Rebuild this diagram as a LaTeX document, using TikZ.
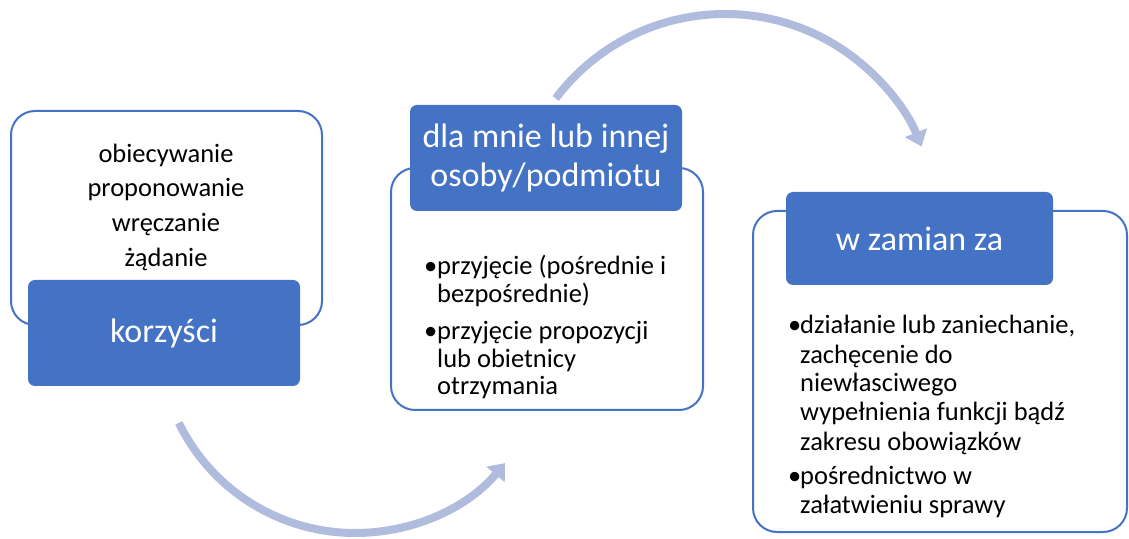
\documentclass[tikz,border=0pt]{standalone}
\usepackage{fontspec}
\setmainfont{Carlito}
\usetikzlibrary{arrows.meta}
\definecolor{mainblue}{HTML}{4472C4}
\definecolor{arrowblue}{RGB}{176,188,222}
\begin{document}
\begin{tikzpicture}[x=1pt,y=1pt,
  outline/.style={draw=mainblue, line width=2pt, fill=white, rounded corners=24pt, inner sep=0pt},
  titlebox/.style={fill=mainblue, rounded corners=7pt, inner sep=0pt, text=white,
    font=\fontsize{34}{39}\selectfont, align=center},
  txt/.style={font=\fontsize{26.5}{28}\selectfont, anchor=base west, inner sep=0pt},
  ctxt/.style={font=\fontsize{26.5}{28}\selectfont, anchor=base, inner sep=0pt},
  flow/.style={draw=arrowblue, line width=8pt, -{Triangle[length=15pt,width=23pt]}}
]
\useasboundingbox (0,0) rectangle (1129,538);
% outline boxes
\node[outline, minimum width=311pt, minimum height=214pt] (o1) at (166.5,320) {};
\node[outline, minimum width=312pt, minimum height=242pt] (o2) at (547,249) {};
\node[outline, minimum width=374pt, minimum height=321pt] (o3) at (940,166.5) {};
% title boxes
\node[titlebox, minimum width=272pt, minimum height=106pt] (t1) at (164,205) {korzyści};
\node[titlebox, minimum width=272pt, minimum height=106pt] (t2) at (546,380) {dla mnie lub innej\\osoby/podmiotu};
\node[titlebox, minimum width=267pt, minimum height=93pt] (t3) at (919.5,299.5) {w zamian za};
% box 1 text
\node[ctxt] (a1) at (166,375) {obiecywanie};
\node[ctxt] (a2) at (166,341) {proponowanie};
\node[ctxt] (a3) at (166,306) {wręczanie};
\node[ctxt] (a4) at (166,271) {żądanie};
% box 2 text
\node[txt] (p1b) at (424,263) {•};
\node[txt] (p1) at (437,263) {przyjęcie (pośrednie i};
\node[txt] (p2) at (437,235) {bezpośrednie)};
\node[txt] (p3b) at (424,198) {•};
\node[txt] (p3) at (437,198) {przyjęcie propozycji};
\node[txt] (p4) at (437,170) {lub obietnicy};
\node[txt] (p5) at (437,143) {otrzymania};
% box 3 text
\node[txt] (q1b) at (788,204) {•};
\node[txt] (q1) at (800,204) {działanie lub zaniechanie,};
\node[txt] (q2) at (800,174) {zachęcenie do};
\node[txt] (q3) at (800,146) {niewłasciwego};
\node[txt] (q4) at (800,117) {wypełnienia funkcji bądź};
\node[txt] (q5) at (800,87) {zakresu obowiązków};
\node[txt] (q6b) at (788,53) {•};
\node[txt] (q6) at (800,53) {pośrednictwo w};
\node[txt] (q7) at (800,25) {załatwieniu sprawy};
% arrows
\coordinate (c1) at (355,201);
\coordinate (c2) at (725,312);
\draw[flow] ([shift={(206:196)}]c1) arc[start angle=206, end angle=320, radius=196];
\draw[flow] ([shift={(143:212)}]c2) arc[start angle=143, end angle=22, radius=212];
\end{tikzpicture}
\end{document}
